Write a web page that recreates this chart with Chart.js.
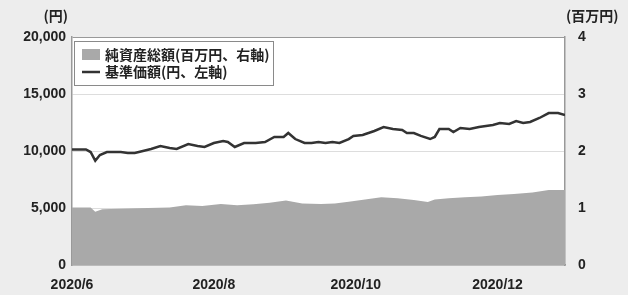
<!DOCTYPE html>
<html lang="ja">
<head>
    <meta charset="UTF-8">
    <title>基準価額・純資産総額の推移</title>
    <script src="https://cdn.jsdelivr.net/npm/chart.js"></script>
    <style>
        html, body { margin: 0; padding: 0; background: #ededed; }
        #wrap { width: 628px; height: 295px; position: relative; }
    </style>
</head>
<body>
    <div id="wrap"><canvas id="navChart" width="628" height="295"></canvas></div>
    <script>
        // 基準価額 (円, 左軸)
        const navDates = ['2020-06-01', '2020-06-07', '2020-06-09', '2020-06-11', '2020-06-13', '2020-06-16', '2020-06-22', '2020-06-25', '2020-06-28',
            '2020-07-05', '2020-07-09', '2020-07-13', '2020-07-16', '2020-07-21', '2020-07-25', '2020-07-28',
            '2020-08-01', '2020-08-05', '2020-08-07', '2020-08-10', '2020-08-14', '2020-08-19', '2020-08-23', '2020-08-27', '2020-08-31',
            '2020-09-02', '2020-09-05', '2020-09-09', '2020-09-12', '2020-09-15', '2020-09-18', '2020-09-21', '2020-09-24', '2020-09-28', '2020-09-30',
            '2020-10-04', '2020-10-09', '2020-10-13', '2020-10-17', '2020-10-21', '2020-10-23', '2020-10-26', '2020-10-29',
            '2020-11-02', '2020-11-04', '2020-11-06', '2020-11-10', '2020-11-12', '2020-11-15', '2020-11-19', '2020-11-23', '2020-11-29',
            '2020-12-02', '2020-12-06', '2020-12-09', '2020-12-12', '2020-12-15', '2020-12-19', '2020-12-23', '2020-12-27', '2020-12-30'];
        const navValues = [10130, 10130, 9910, 9150, 9650, 9910, 9910, 9825, 9825,
            10175, 10440, 10260, 10175, 10615, 10440, 10350,
            10700, 10880, 10790, 10350, 10700, 10700, 10790, 11230, 11230,
            11580, 11050, 10700, 10700, 10790, 10700, 10790, 10700, 11050, 11320,
            11400, 11755, 12105, 11930, 11840, 11580, 11580, 11320,
            11050, 11230, 11930, 11930, 11670, 12020, 11930, 12105, 12280,
            12455, 12370, 12630, 12455, 12545, 12895, 13330, 13330, 13160];

        // 純資産総額 (百万円, 右軸)
        const assetDates = ['2020-06-01', '2020-06-09', '2020-06-11', '2020-06-14', '2020-06-29', '2020-07-13', '2020-07-20', '2020-07-27',
            '2020-08-04', '2020-08-11', '2020-08-18', '2020-08-25', '2020-09-01', '2020-09-08', '2020-09-16', '2020-09-22', '2020-09-28',
            '2020-10-05', '2020-10-12', '2020-10-19', '2020-10-26', '2020-11-01', '2020-11-04', '2020-11-10', '2020-11-17', '2020-11-24',
            '2020-12-01', '2020-12-08', '2020-12-16', '2020-12-23', '2020-12-30'];
        const assetValues = [1.01, 1.01, 0.935, 0.98, 0.995, 1.01, 1.05, 1.035,
            1.07, 1.05, 1.065, 1.09, 1.13, 1.08, 1.07, 1.08, 1.11,
            1.15, 1.19, 1.17, 1.14, 1.105, 1.15, 1.17, 1.19, 1.2,
            1.23, 1.245, 1.27, 1.315, 1.315];

        const xTickDates = ['2020-06-01', '2020-08-01', '2020-10-01', '2020-12-01'];
        const xTickLabels = ['2020/6', '2020/8', '2020/10', '2020/12'];
        const legendLabels = ['純資産総額(百万円、右軸)', '基準価額(円、左軸)'];

        const start = Date.UTC(2020, 5, 1);
        function dayNo(s) {
            const p = s.split('-');
            return Math.round((Date.UTC(+p[0], +p[1] - 1, +p[2]) - start) / 86400000);
        }
        const xTicks = xTickDates.map(dayNo);

        const numFont = { family: "'Liberation Sans', Arial, sans-serif", size: 14, weight: 'bold' };
        const jpFont = "bold 14px 'Noto Sans CJK JP', sans-serif";

        const decor = {
            id: 'decor',
            beforeDraw(chart) {
                const { ctx, chartArea: a } = chart;
                ctx.save();
                ctx.fillStyle = '#ffffff';
                ctx.fillRect(a.left, a.top, a.right - a.left, a.bottom - a.top);
                ctx.restore();
            },
            afterDraw(chart) {
                const { ctx, chartArea: a } = chart;
                ctx.save();
                // axis unit labels
                ctx.fillStyle = '#222';
                ctx.font = jpFont;
                ctx.textBaseline = 'middle';
                ctx.textAlign = 'right';
                ctx.fillText('(円)', 68, 16);
                ctx.textAlign = 'left';
                ctx.fillText('(百万円)', 566, 16);

                // legend box
                ctx.fillStyle = '#ffffff';
                ctx.fillRect(a.left + 2, a.top + 4, 199, 44);
                ctx.strokeStyle = '#8a8a8a';
                ctx.lineWidth = 1;
                ctx.strokeRect(a.left + 2.5, a.top + 4.5, 199, 44);
                ctx.fillStyle = '#a9a9a9';
                ctx.fillRect(a.left + 10, a.top + 12, 18, 11);
                ctx.strokeStyle = '#333';
                ctx.lineWidth = 2.5;
                ctx.beginPath();
                ctx.moveTo(a.left + 10, a.top + 35);
                ctx.lineTo(a.left + 28, a.top + 35);
                ctx.stroke();
                ctx.fillStyle = '#222';
                ctx.font = jpFont;
                ctx.textAlign = 'left';
                ctx.fillText(legendLabels[0], a.left + 33, a.top + 18);
                ctx.fillText(legendLabels[1], a.left + 33, a.top + 35);
                ctx.restore();
            }
        };

        new Chart(document.getElementById('navChart'), {
            type: 'line',
            data: {
                datasets: [{
                    label: legendLabels[1],
                    data: navDates.map((d, i) => ({ x: dayNo(d), y: navValues[i] })),
                    yAxisID: 'y',
                    borderColor: '#333333',
                    borderWidth: 2.5,
                    pointRadius: 0,
                    tension: 0,
                    fill: false,
                    order: 0
                }, {
                    label: legendLabels[0],
                    data: assetDates.map((d, i) => ({ x: dayNo(d), y: assetValues[i] })),
                    yAxisID: 'y1',
                    borderWidth: 0,
                    borderColor: '#a9a9a9',
                    backgroundColor: '#a9a9a9',
                    pointRadius: 0,
                    tension: 0,
                    fill: 'origin',
                    order: 1
                }]
            },
            options: {
                responsive: false,
                animation: false,
                layout: { padding: { top: 37, left: 0, right: 0, bottom: 0 } },
                plugins: { legend: { display: false }, tooltip: { enabled: false } },
                scales: {
                    x: {
                        type: 'linear',
                        min: 0,
                        max: 212,
                        afterBuildTicks: s => { s.ticks = xTicks.map(v => ({ value: v })); },
                        afterFit: s => { s.height = 30; },
                        grid: { display: false },
                        border: { color: '#999', width: 1.5 },
                        ticks: {
                            color: '#222',
                            font: numFont,
                            padding: 4,
                            maxRotation: 0,
                            callback: v => xTickLabels[xTicks.indexOf(v)]
                        }
                    },
                    y: {
                        position: 'left',
                        min: 0,
                        max: 20000,
                        afterFit: s => { s.width = 72; },
                        grid: {
                            drawTicks: false,
                            color: c => c.tick.value === 20000 ? '#999' : '#dddddd'
                        },
                        border: { color: '#999', width: 1.5 },
                        ticks: {
                            stepSize: 5000,
                            color: '#222',
                            font: numFont,
                            padding: 6,
                            callback: v => v.toLocaleString('en-US')
                        }
                    },
                    y1: {
                        position: 'right',
                        min: 0,
                        max: 4,
                        afterFit: s => { s.width = 63; },
                        grid: { display: false, drawTicks: false },
                        border: { color: '#999', width: 1.5 },
                        ticks: {
                            stepSize: 1,
                            color: '#222',
                            font: numFont,
                            padding: 13
                        }
                    }
                }
            },
            plugins: [decor]
        });
    </script>
</body>
</html>
